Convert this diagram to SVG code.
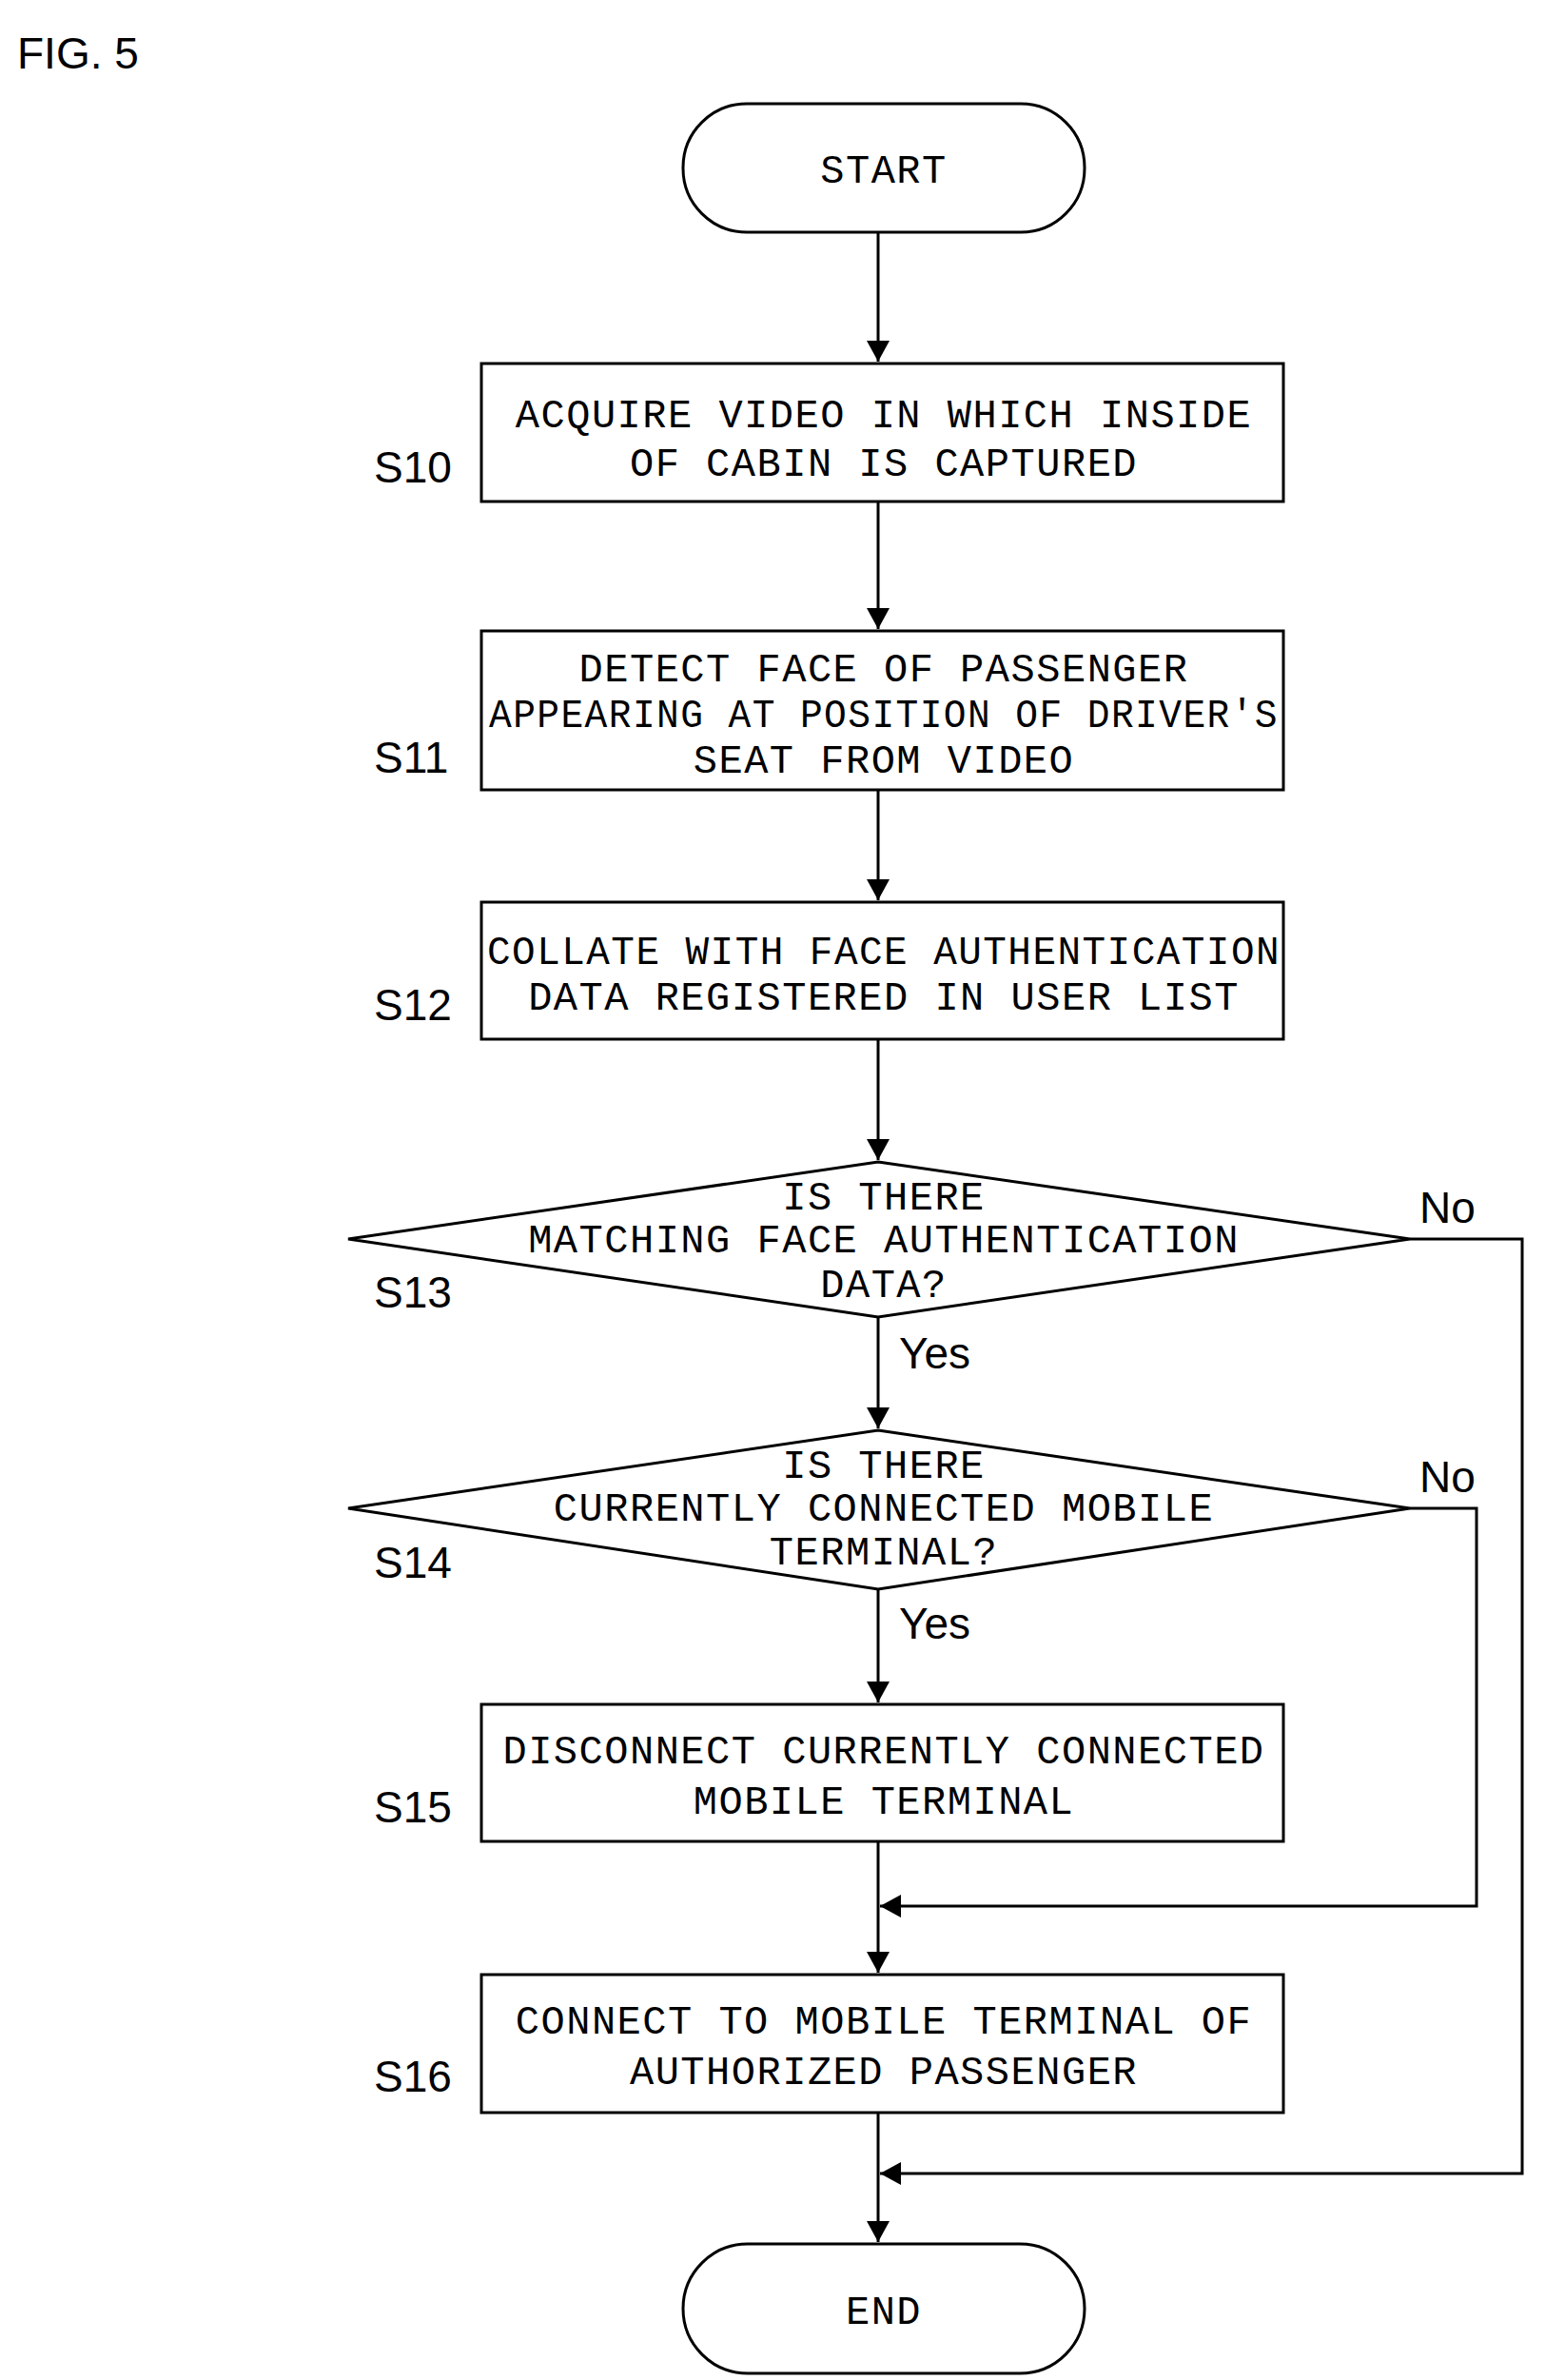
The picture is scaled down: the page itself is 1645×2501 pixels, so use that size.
<svg xmlns="http://www.w3.org/2000/svg" width="1645" height="2501" viewBox="0 0 1645 2501">
<style>
.n{fill:#fff;stroke:#000;stroke-width:3}
.t{font-family:"Liberation Mono",monospace;font-size:42px;letter-spacing:1.5px;text-anchor:middle}
.l{font-family:"Liberation Sans",Arial,sans-serif;font-size:46px}
.c{fill:none;stroke:#000;stroke-width:3}
</style>
<defs><marker id="a" viewBox="0 0 10 10" refX="10" refY="5" markerWidth="10" markerHeight="10" orient="auto" markerUnits="userSpaceOnUse" style="overflow:visible"><path d="M-12,-7L10,5L-12,17z"/></marker></defs>
<rect width="1645" height="2501" fill="#fff"/>
<text class="l" x="18" y="72" font-size="60">FIG. 5</text>
<g id="connectors">
<path class="c" d="M923 244V380" marker-end="url(#a)"/>
<path class="c" d="M923 527V661" marker-end="url(#a)"/>
<path class="c" d="M923 830V946" marker-end="url(#a)"/>
<path class="c" d="M923 1092V1219" marker-end="url(#a)"/>
<path class="c" d="M923 1384V1501" marker-end="url(#a)"/>
<path class="c" d="M923 1670V1789" marker-end="url(#a)"/>
<path class="c" d="M923 1935V2073" marker-end="url(#a)"/>
<path class="c" d="M923 2220V2356" marker-end="url(#a)"/>
<path class="c" d="M1482 1302H1600V2284H925" marker-end="url(#a)"/>
<path class="c" d="M1482 1585H1552V2003H925" marker-end="url(#a)"/>
<text class="l" x="1492" y="1285">No</text>
<text class="l" x="1492" y="1568">No</text>
<text class="l" x="945" y="1438">Yes</text>
<text class="l" x="945" y="1722">Yes</text>
</g>
<g id="start"><rect class="n" x="718" y="109" width="422" height="135" rx="67"/><text class="t" x="929" y="192">START</text></g>
<g id="s10"><rect class="n" x="506" y="382" width="843" height="145"/><text class="t" x="929" y="449">ACQUIRE VIDEO IN WHICH INSIDE</text><text class="t" x="929" y="500">OF CABIN IS CAPTURED</text><text class="l" x="393" y="507">S10</text></g>
<g id="s11"><rect class="n" x="506" y="663" width="843" height="167"/><text class="t" x="929" y="716">DETECT FACE OF PASSENGER</text><text class="t" x="929" y="764" textLength="830" lengthAdjust="spacingAndGlyphs">APPEARING AT POSITION OF DRIVER'S</text><text class="t" x="929" y="812">SEAT FROM VIDEO</text><text class="l" x="393" y="812">S11</text></g>
<g id="s12"><rect class="n" x="506" y="948" width="843" height="144"/><text class="t" x="929" y="1013" textLength="834" lengthAdjust="spacingAndGlyphs">COLLATE WITH FACE AUTHENTICATION</text><text class="t" x="929" y="1061">DATA REGISTERED IN USER LIST</text><text class="l" x="393" y="1072">S12</text></g>
<g id="s13"><path class="n" d="M923 1221L1482 1302L923 1384L366 1302Z"/><text class="t" x="929" y="1271">IS THERE</text><text class="t" x="929" y="1316">MATCHING FACE AUTHENTICATION</text><text class="t" x="929" y="1363">DATA?</text><text class="l" x="393" y="1374">S13</text></g>
<g id="s14"><path class="n" d="M923 1503L1482 1585L923 1670L366 1585Z"/><text class="t" x="929" y="1553">IS THERE</text><text class="t" x="929" y="1598">CURRENTLY CONNECTED MOBILE</text><text class="t" x="929" y="1644">TERMINAL?</text><text class="l" x="393" y="1658">S14</text></g>
<g id="s15"><rect class="n" x="506" y="1791" width="843" height="144"/><text class="t" x="929" y="1853">DISCONNECT CURRENTLY CONNECTED</text><text class="t" x="929" y="1906">MOBILE TERMINAL</text><text class="l" x="393" y="1915">S15</text></g>
<g id="s16"><rect class="n" x="506" y="2075" width="843" height="145"/><text class="t" x="929" y="2137">CONNECT TO MOBILE TERMINAL OF</text><text class="t" x="929" y="2190">AUTHORIZED PASSENGER</text><text class="l" x="393" y="2198">S16</text></g>
<g id="end"><rect class="n" x="718" y="2358" width="422" height="136" rx="68"/><text class="t" x="929" y="2442">END</text></g>
</svg>
